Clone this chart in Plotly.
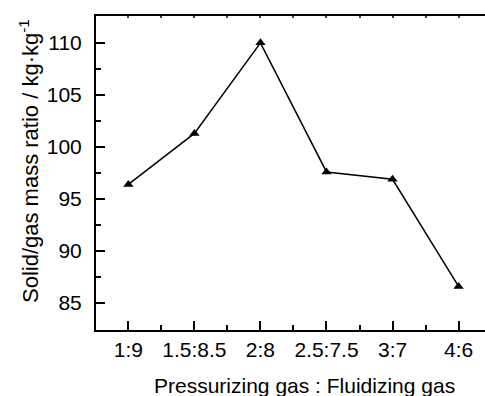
import plotly.graph_objects as go

categories = ["1:9", "1.5:8.5", "2:8", "2.5:7.5", "3:7", "4:6"]
ratio = [96.4, 101.3, 110.0, 97.6, 96.9, 86.6]

xpos = list(range(len(categories)))
half = [i + 0.5 for i in range(len(categories) - 1)]
allpos = sorted(xpos + half)

font = dict(family="Liberation Sans, Arial, sans-serif", size=21, color="black")

fig = go.Figure()
fig.add_trace(go.Scatter(
    x=xpos, y=ratio, mode="lines+markers",
    line=dict(color="black", width=1.5),
    marker=dict(symbol="triangle-up", size=9, color="black"),
    showlegend=False, cliponaxis=False,
))
fig.add_trace(go.Scatter(x=[xpos[0]], y=[ratio[0]], xaxis="x2", mode="markers",
                         marker=dict(opacity=0), showlegend=False, hoverinfo="skip"))

W, H = 485, 396
L, R, T, B = 96, 0, 16, 66
pw, ph = W - L - R, H - T - B

xr = [-0.49, 5.40]
fig.update_layout(
    width=W, height=H,
    margin=dict(l=L, r=R, t=T, b=B),
    paper_bgcolor="white", plot_bgcolor="white",
    font=font,
    xaxis=dict(
        range=xr, tickvals=xpos, ticktext=categories,
        ticks="inside", ticklen=9, tickwidth=1.5, tickcolor="black",
        showline=True, linecolor="black", linewidth=2,
        showgrid=False, zeroline=False,
        minor=dict(tickvals=half, ticks="inside", ticklen=5, tickwidth=1.5, tickcolor="black", showgrid=False),
        tickfont=font,
    ),
    xaxis2=dict(
        range=xr, overlaying="x", side="top", tickvals=allpos, showticklabels=False,
        ticks="inside", ticklen=2, tickwidth=1.5, tickcolor="#444",
        showline=True, linecolor="black", linewidth=2,
        showgrid=False, zeroline=False,
    ),
    yaxis=dict(
        range=[82.42, 112.58], dtick=5, tick0=85,
        ticks="inside", ticklen=9, tickwidth=1.5, tickcolor="black",
        showline=True, linecolor="black", linewidth=2,
        showgrid=False, zeroline=False,
        minor=dict(dtick=2.5, tick0=82.5, ticks="inside", ticklen=5, tickwidth=1.5, tickcolor="black", showgrid=False),
        tickfont=font, ticklabelstandoff=8,
    ),
    annotations=[
        dict(text="Solid/gas mass ratio / kg·kg<sup>-1</sup>", textangle=-90,
             xref="paper", yref="paper", x=(29 - L) / pw, y=(H - B - 161) / ph,
             xanchor="center", yanchor="middle", showarrow=False,
             font=dict(family=font["family"], size=22, color="black")),
        dict(text="Pressurizing gas : Fluidizing gas",
             xref="paper", yref="paper", x=(304.5 - L) / pw, y=(H - B - 385) / ph,
             xanchor="center", yanchor="middle", showarrow=False, font=font),
    ],
)
fig.write_html("out.html")
